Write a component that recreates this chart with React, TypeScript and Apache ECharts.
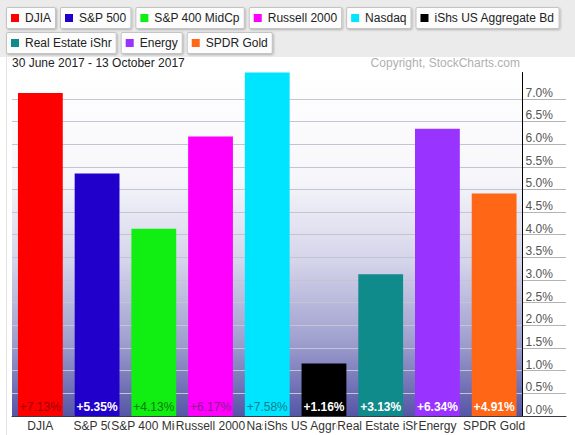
import React, { useEffect, useRef } from "react";
import * as echarts from "echarts";

const CATEGORIES = [
  "DJIA",
  "S&P 500",
  "S&P 400 MidCp",
  "Russell 2000",
  "Nasdaq",
  "iShs US Aggregate Bd",
  "Real Estate iShr",
  "Energy",
  "SPDR Gold",
];
const VALUES = [7.13, 5.35, 4.13, 6.17, 7.58, 1.16, 3.13, 6.34, 4.91];
const BAR_COLORS = [
  "#ff0000",
  "#2200cc",
  "#11ee11",
  "#ff00ff",
  "#00e5ff",
  "#000000",
  "#0f8b8b",
  "#9933ff",
  "#ff6616",
];
const LABEL_COLORS = [
  "#9a0000",
  "#ffffff",
  "#0b7a0b",
  "#8e1a8e",
  "#0c7f8c",
  "#ffffff",
  "#ffffff",
  "#ffffff",
  "#ffffff",
];
const LABEL_BOLD = [false, true, false, false, false, true, true, true, true];
const Y_TICKS = [0, 0.5, 1, 1.5, 2, 2.5, 3, 3.5, 4, 4.5, 5, 5.5, 6, 6.5, 7];
const LEGEND_ROW_1 = CATEGORIES.slice(0, 6);
const LEGEND_ROW_2 = CATEGORIES.slice(6);
const DATE_RANGE = "30 June 2017 - 13 October 2017";
const COPYRIGHT = "Copyright, StockCharts.com";

const FONT = "'Liberation Sans', Arial, Helvetica, sans-serif";
const Y_MAX = 7.58;
const Y_INTERVAL = 0.5;

function splitColors(color: string) {
  const n = Math.floor(Y_MAX / Y_INTERVAL) + 2;
  const out: string[] = [];
  for (let i = 0; i < n; i++) {
    const v = i * Y_INTERVAL;
    out.push(Y_TICKS.indexOf(v) >= 0 ? color : "rgba(0,0,0,0)");
  }
  return out;
}

function legendRich() {
  const rich: any = {
    t: { fontSize: 12, fontFamily: FONT, color: "#222", padding: [0, 0, 0, 6], lineHeight: 12 },
  };
  BAR_COLORS.forEach((c, i) => {
    rich["s" + i] = { width: 8, height: 8, backgroundColor: c };
  });
  return rich;
}

function makeLegend(data: string[], top: number) {
  return {
    data,
    top,
    left: 2,
    width: 573,
    orient: "horizontal",
    icon: "none",
    itemWidth: 0,
    itemHeight: 12,
    itemGap: 0,
    selectedMode: false,
    padding: 0,
    formatter: (name: string) => `{s${CATEGORIES.indexOf(name)}|}{t|${name}}`,
    textStyle: {
      fontSize: 12,
      fontFamily: FONT,
      color: "#222",
      backgroundColor: "#fcfcfc",
      borderColor: "#c4c4c4",
      borderWidth: 1,
      borderRadius: 1,
      padding: [4, 4, 4, 4],
      shadowColor: "rgba(0,0,0,0.25)",
      shadowBlur: 2,
      shadowOffsetX: 1,
      shadowOffsetY: 1,
      rich: legendRich(),
    },
  };
}

export default function App() {
  const ref = useRef<HTMLDivElement>(null);

  useEffect(() => {
    if (!ref.current) return;
    const chart = echarts.init(ref.current, undefined, { renderer: "svg" });

    const series = CATEGORIES.map((name, i) => ({
      type: "bar",
      name,
      stack: "all",
      xAxisIndex: 0,
      yAxisIndex: 0,
      barCategoryGap: "21%",
      data: VALUES.map((v, j) => (j === i ? v : "-")),
      itemStyle: { color: BAR_COLORS[i] },
      label: {
        show: true,
        position: "insideBottom",
        distance: 3,
        formatter: (p: any) => "+" + Number(p.value).toFixed(2) + "%",
        color: LABEL_COLORS[i],
        fontSize: 12,
        fontFamily: FONT,
        fontWeight: LABEL_BOLD[i] ? "bold" : "normal",
      },
    }));

    const yLabelFormatter = (v: number) =>
      Y_TICKS.indexOf(Math.round(v * 100) / 100) >= 0 ? v.toFixed(1) + "%" : "";

    chart.setOption({
      animation: false,
      backgroundColor: "#ffffff",
      textStyle: { fontFamily: FONT },
      title: [
        {
          text: DATE_RANGE,
          left: 12,
          top: 57,
          padding: 0,
          textStyle: { fontSize: 12, fontWeight: "normal", color: "#222", fontFamily: FONT },
        },
        {
          text: COPYRIGHT,
          right: 55,
          top: 57,
          padding: 0,
          textStyle: { fontSize: 12, fontWeight: "normal", color: "#b0b0b0", fontFamily: FONT },
        },
      ],
      legend: [makeLegend(LEGEND_ROW_1, 7), makeLegend(LEGEND_ROW_2, 32)],
      graphic: [
        {
          type: "rect",
          left: 0,
          top: 0,
          z: -10,
          shape: { x: 0, y: 0, width: 575, height: 57 },
          style: { fill: "#ebebeb" },
          silent: true,
        },
        {
          type: "line",
          z: -10,
          shape: { x1: 6.5, y1: 57, x2: 6.5, y2: 435 },
          style: { stroke: "#e4e4e4", lineWidth: 1 },
          silent: true,
        },
      ],
      grid: [
        {
          left: 12,
          right: 52.5,
          top: 72.5,
          bottom: 19,
          show: true,
          borderWidth: 0,
          backgroundColor: new echarts.graphic.LinearGradient(0, 0, 0, 1, [
            { offset: 0, color: "#ffffff" },
            { offset: 0.3, color: "#f7f7fb" },
            { offset: 0.55, color: "#d4d4ea" },
            { offset: 0.78, color: "#a0a0cf" },
            { offset: 1, color: "#5555a6" },
          ]),
        },
        {
          left: 522.5,
          right: 9,
          top: 72.5,
          bottom: 19,
          show: false,
        },
      ],
      xAxis: [
        {
          type: "category",
          gridIndex: 0,
          data: CATEGORIES,
          axisLine: { show: true, lineStyle: { color: "#3a3a4a", width: 1 } },
          axisTick: { show: false },
          splitLine: { show: false },
          axisLabel: {
            interval: 0,
            margin: 3,
            fontSize: 12,
            fontFamily: FONT,
            color: "#333",
            backgroundColor: "#ffffff",
            padding: [1, 1, 1, 1],
          },
        },
        {
          type: "value",
          gridIndex: 1,
          min: 0,
          max: 1,
          axisLine: { show: true, onZero: false, lineStyle: { color: "#3a3a4a", width: 1 } },
          axisTick: { show: false },
          axisLabel: { show: false },
          splitLine: { show: false },
        },
      ],
      yAxis: [
        {
          type: "value",
          gridIndex: 0,
          position: "right",
          min: 0,
          max: Y_MAX,
          interval: Y_INTERVAL,
          axisLine: { show: true, lineStyle: { color: "#000", width: 1 } },
          axisTick: { show: false },
          axisLabel: {
            margin: 3,
            fontSize: 12,
            fontFamily: FONT,
            color: "#555",
            verticalAlign: "bottom",
            formatter: yLabelFormatter,
          },
          splitLine: { show: true, lineStyle: { color: splitColors("#c4c4d2"), width: 1 } },
        },
        {
          type: "value",
          gridIndex: 1,
          position: "left",
          min: 0,
          max: Y_MAX,
          interval: Y_INTERVAL,
          axisLine: { show: false },
          axisTick: { show: false },
          axisLabel: { show: false },
          splitLine: { show: true, lineStyle: { color: splitColors("#b4b4b4"), width: 1 } },
        },
      ],
      series,
    });

    return () => chart.dispose();
  }, []);

  return (
    <div
      ref={ref}
      style={{ position: "absolute", left: 0, top: 0, width: 575, height: 435 }}
    />
  );
}
